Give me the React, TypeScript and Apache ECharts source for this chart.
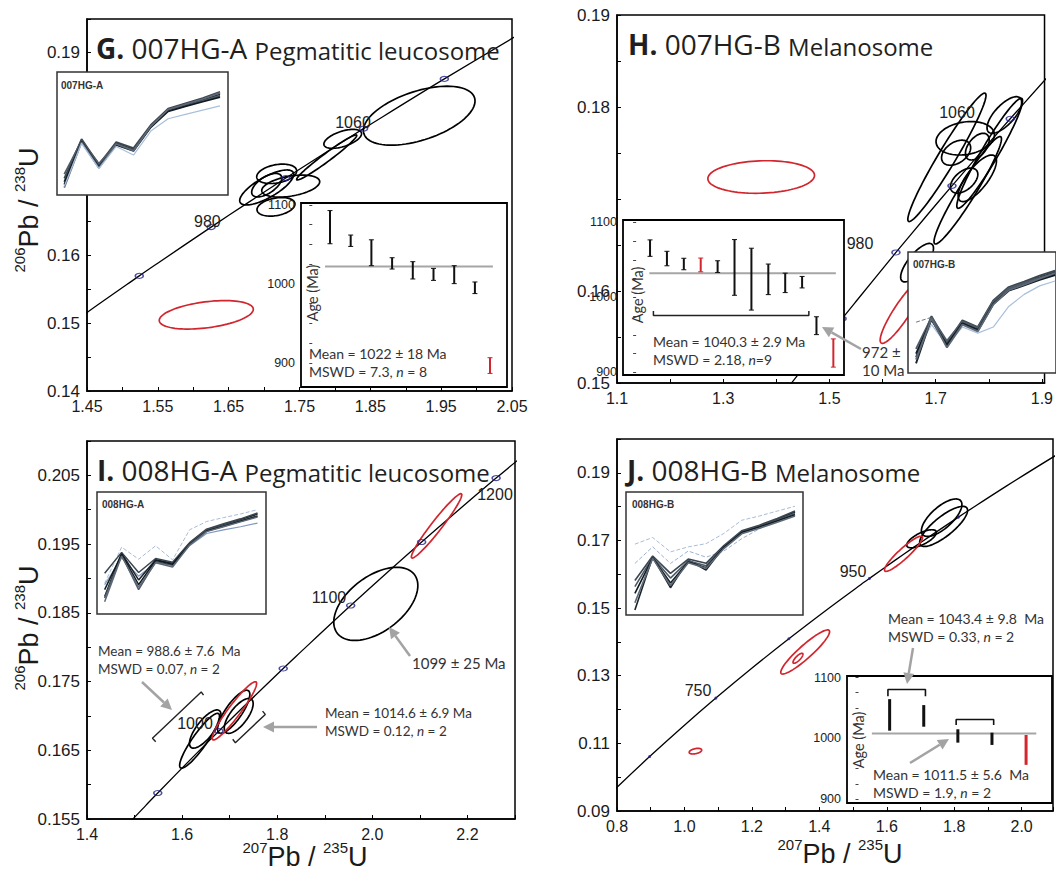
import React, { useEffect, useRef } from 'react';
import * as echarts from 'echarts';

// ---------- Concordia nodes: [age Ma, 207Pb/235U, 206Pb/238U] ----------
const CONCORDIA: [number, number, number][] = [
  [550, 0.7189, 0.08906], [600, 0.8056, 0.09754], [650, 0.8968, 0.10609],
  [700, 0.9925, 0.1147], [750, 1.0931, 0.12338], [800, 1.1987, 0.13213],
  [850, 1.3097, 0.14094], [900, 1.4263, 0.14983], [940, 1.5238, 0.15699],
  [950, 1.5488, 0.15878], [980, 1.6252, 0.16419], [1000, 1.6774, 0.1678],
  [1020, 1.7307, 0.17143], [1050, 1.8126, 0.1769], [1060, 1.8404, 0.17872],
  [1100, 1.9545, 0.18606], [1150, 2.1037, 0.1953], [1200, 2.2603, 0.2046],
  [1250, 2.4249, 0.21398],
];
const G_MARKER_AGES = [940, 980, 1020, 1060, 1100];
const H_MARKER_AGES = [940, 980, 1020, 1060, 1100];
const I_MARKER_AGES = [950, 1000, 1050, 1100, 1150, 1200];
const J_MARKER_AGES = [650, 750, 850, 950, 1050];

// ---------- Error ellipses: [x, y, sigmaX, sigmaY, rho] ----------
const G_BLACK = [
  [1.919, 0.18063, 0.0788, 0.00435, 0.5],
  [1.811, 0.17721, 0.0266, 0.0014, 0.55],
  [1.7884, 0.17447, 0.0424, 0.00332, 0.975],
  [1.7178, 0.17205, 0.0282, 0.00143, 0.3],
  [1.7037, 0.17038, 0.0212, 0.00173, 0.6],
  [1.7037, 0.17004, 0.0381, 0.00258, 0.75],
  [1.7376, 0.17024, 0.0409, 0.00162, 0.4],
  [1.7168, 0.16718, 0.0268, 0.00137, 0.3],
];
const G_RED = [[1.6184, 0.15124, 0.0664, 0.0021, 0.39]];

const H_BLACK = [
  [1.7212, 0.17453, 0.0736, 0.00698, 0.965],
  [1.7557, 0.1766, 0.055, 0.00182, 0.2],
  [1.7385, 0.17503, 0.0274, 0.00136, 0.4],
  [1.7784, 0.17569, 0.0223, 0.00145, 0.5],
  [1.8293, 0.17913, 0.0326, 0.00199, 0.7],
  [1.7604, 0.17095, 0.0635, 0.00584, 0.955],
  [1.8017, 0.17497, 0.0619, 0.00598, 0.955],
  [1.7536, 0.172, 0.0258, 0.00136, 0.5],
  [1.7784, 0.17225, 0.0361, 0.00253, 0.75],
  [1.665, 0.16308, 0.0309, 0.00209, 0.75],
];
const H_RED = [
  [1.6367, 0.15779, 0.0412, 0.00348, 0.9],
  [1.3715, 0.17239, 0.1004, 0.00177, 0.1],
];

const I_BLACK = [
  [2.0073, 0.1863, 0.0884, 0.00532, 0.5],
  [1.7085, 0.1706, 0.0339, 0.00314, 0.8],
  [1.719, 0.17, 0.0304, 0.00254, 0.7],
  [1.6486, 0.16809, 0.0331, 0.00278, 0.75],
  [1.6367, 0.16639, 0.0419, 0.00399, 0.9],
];
const I_RED = [
  [2.1351, 0.19765, 0.053, 0.00468, 0.965],
  [1.71, 0.17074, 0.0467, 0.00423, 0.94],
];

const J_BLACK = [
  [1.7628, 0.17673, 0.0601, 0.00554, 0.7],
  [1.7686, 0.17415, 0.071, 0.00593, 0.8],
  [1.7032, 0.1705, 0.044, 0.00267, 0.7],
];
const J_RED = [
  [1.6496, 0.16606, 0.0563, 0.00519, 0.92],
  [1.3581, 0.13702, 0.0724, 0.00652, 0.92],
  [1.3367, 0.13516, 0.0147, 0.00148, 0.8],
  [1.0326, 0.10769, 0.0185, 0.00083, 0.4],
];

// ---------- Bracket annotations in I (data space) ----------
const I_BRACKET_LEFT = [[1.5445, 0.16625], [1.5376, 0.16674], [1.6402, 0.17349], [1.645, 0.17301]];
const I_BRACKET_RIGHT = [[1.7064, 0.1666], [1.712, 0.1661], [1.7749, 0.17022], [1.7692, 0.1707]];

// ---------- Weighted-mean insets: [position, low age, high age] ----------
const G_BARS_BLACK = [
  [1, 1050.9, 1092.9], [2, 1047.5, 1061.9], [3, 1023.1, 1055.9], [4, 1018.9, 1033.2],
  [5, 1006.3, 1028.2], [6, 1004.5, 1019.7], [7, 1000.4, 1023.1], [8, 987.8, 1002.5],
];
const G_BARS_RED = [[8.73, 886.7, 906.6]];
const G_MEAN = 1022;
const G_MEAN_SPAN = [0.76, 8.87];

const H_BARS_BLACK = [
  [1, 1054.6, 1076.5], [2, 1042, 1061.3], [3, 1036.7, 1052], [5, 1033.1, 1048.7],
  [6, 1002.7, 1076.9], [7, 983, 1065.4], [8, 1003.6, 1044.3], [9, 1006.3, 1032.2],
  [10, 1012.5, 1027.8], [10.85, 950.3, 974.1],
];
const H_BARS_RED = [[4, 1034, 1052.3], [11.85, 907, 944.6]];
const H_MEAN = 1032;
const H_MEAN_SPAN = [0.96, 12.0];
const H_BRACKET = [[1.2, 981.6], [1.2, 975.8], [10.4, 975.8], [10.4, 981.6]];

const J_BARS_BLACK = [[1, 1012.5, 1064.4], [2, 1019, 1054.6], [3, 992.8, 1014.8], [4, 989, 1009.2]];
const J_BARS_RED = [[5, 956.2, 1005.4]];
const J_MEAN = 1008;
const J_MEAN_SPAN = [0.48, 5.3];
const J_BRACKET_A = [[0.95, 1069], [0.95, 1080.3], [2.05, 1080.3], [2.05, 1069]];
const J_BRACKET_B = [[2.95, 1021.8], [2.95, 1031], [4.05, 1031], [4.05, 1021.8]];

const WM_LABELS = [900, 1000, 1100];
const WM_TICKS = [900, 925, 950, 975, 1000, 1025, 1050, 1075, 1100];

// ---------- Spider-diagram insets (relative values, 10 elements) ----------
const G_SPIDER_DARK = [
  [10.8, 44.7, 23.8, 42.0, 37.2, 56.1, 69.1, 73.2, 77.2, 81.9],
  [13.5, 45.5, 24.8, 43.0, 38.2, 57.0, 70.2, 74.5, 78.8, 84.0],
  [17.0, 44.0, 25.5, 41.2, 36.5, 55.5, 68.8, 72.6, 76.5, 80.8],
  [8.5, 43.5, 22.6, 40.6, 35.8, 55.0, 68.0, 72.0, 75.8, 79.6],
  [6.0, 43.0, 22.0, 41.5, 36.0, 55.8, 69.5, 73.8, 78.0, 83.0],
];
const G_SPIDER_LIGHT = [7.0, 42.0, 21.5, 39.5, 32.5, 52.0, 62.0, 65.5, 69.0, 72.5];

const H_SPIDER_DARK = [
  [8.0, 45.5, 22.0, 42.0, 36.0, 58.0, 69.5, 74.0, 79.0, 83.0],
  [13.0, 47.0, 24.5, 43.5, 38.0, 60.0, 71.0, 75.5, 80.5, 84.5],
  [20.0, 46.0, 26.5, 42.5, 37.5, 59.0, 70.0, 74.5, 78.5, 82.0],
  [16.0, 44.0, 23.0, 41.0, 35.0, 57.0, 68.0, 72.5, 77.0, 81.0],
  [11.0, 45.0, 21.0, 40.0, 34.5, 56.5, 68.5, 73.0, 78.0, 82.5],
];
const H_SPIDER_LIGHT = [15.0, 40.0, 23.0, 38.0, 33.0, 38.0, 55.0, 65.0, 72.0, 76.0];
const H_SPIDER_DASH = [42.0, 46.0, 25.0, 42.0, 36.5, 58.5, 70.5, 75.0, 80.0, 83.5];

const I_SPIDER_DARK = [
  [14.3, 49.9, 27.9, 44.4, 41.6, 58.1, 69.0, 73.1, 77.2, 81.9],
  [33.4, 50.5, 34.0, 45.5, 42.5, 58.5, 69.5, 74.0, 78.0, 82.8],
  [13.0, 48.5, 20.0, 43.0, 40.0, 57.5, 68.5, 72.5, 76.5, 80.5],
  [20.0, 49.0, 24.0, 44.0, 40.8, 57.0, 68.0, 72.0, 76.0, 80.0],
  [10.0, 47.5, 22.0, 42.0, 38.5, 56.5, 67.5, 71.5, 75.5, 79.5],
];
const I_SPIDER_LIGHT = [24.0, 46.0, 31.0, 42.0, 40.0, 56.0, 66.0, 69.0, 71.5, 74.5];
const I_SPIDER_DASH = [25.2, 54.8, 44.9, 55.9, 44.4, 69.0, 75.8, 79.0, 82.0, 85.5];

const J_SPIDER_DARK = [
  [4.0, 47.3, 22.2, 44.6, 36.5, 55.4, 67.6, 72.2, 77.6, 83.8],
  [28.0, 48.0, 33.8, 45.5, 42.0, 56.5, 68.5, 73.0, 78.5, 84.5],
  [23.0, 47.0, 30.0, 44.0, 40.0, 55.5, 67.5, 72.0, 77.0, 82.5],
  [17.6, 46.5, 26.0, 43.0, 38.5, 55.0, 67.0, 71.5, 76.5, 81.5],
  [10.0, 46.0, 24.0, 42.5, 38.0, 54.0, 66.0, 70.5, 75.5, 80.5],
];
const J_SPIDER_DASH1 = [57.6, 63.0, 51.3, 55.4, 58.0, 66.3, 77.0, 80.5, 84.5, 88.4];
const J_SPIDER_DASH2 = [41.9, 55.4, 41.9, 52.0, 47.0, 52.0, 62.0, 70.0, 77.0, 84.0];

// ---------- Tick labels ----------
const G_X_LABELS = ['1.45', '1.55', '1.65', '1.75', '1.85', '1.95', '2.05'];
const G_Y_LABELS = ['0.14', '0.15', '0.16', '0.19'];
const H_X_LABELS = ['1.1', '1.3', '1.5', '1.7', '1.9'];
const H_Y_LABELS = ['0.15', '0.16', '0.18', '0.19'];
const I_X_LABELS = ['1.4', '1.6', '1.8', '2.0', '2.2'];
const I_Y_LABELS = ['0.155', '0.165', '0.175', '0.185', '0.195', '0.205'];
const J_X_LABELS = ['0.8', '1.0', '1.2', '1.4', '1.6', '1.8', '2.0'];
const J_Y_LABELS = ['0.09', '0.11', '0.13', '0.15', '0.17', '0.19'];

const NUM_FONT = 'Liberation Sans';
const TXT_FONT = 'Lato';
const TITLE_FONT = 'Open Sans';
const RED = '#d1262e';
const ARROW = '#a3a3a3';

const pick = (labels: string[]) => (v: number) => {
  const f = labels.find((l) => Math.abs(parseFloat(l) - v) < 1e-7);
  return f ?? '';
};

function mainAxis(g: number, min: number, max: number, interval: number, labels: string[], size: number) {
  return {
    type: 'value', gridIndex: g, min, max, interval,
    axisLine: { show: true, onZero: false, lineStyle: { color: '#000', width: 1.5 } },
    axisTick: { show: true, inside: true, length: 4, lineStyle: { color: '#000', width: 1 } },
    axisLabel: {
      formatter: pick(labels), fontSize: size, fontFamily: NUM_FONT, color: '#1a1a1a', margin: 7,
      showMinLabel: true, showMaxLabel: true, hideOverlap: false,
    },
    splitLine: { show: false },
  };
}
function hiddenAxis(g: number, min: number, max: number) {
  return { type: 'value', gridIndex: g, min, max, show: false, splitLine: { show: false }, z: 12 };
}
function wmY(g: number, min: number, max: number) {
  return {
    type: 'value', gridIndex: g, min, max, z: 12,
    axisLine: { show: false }, splitLine: { show: false },
    axisTick: { show: true, inside: true, length: 3, customValues: WM_TICKS, lineStyle: { color: '#444', width: 1 } },
    axisLabel: {
      customValues: WM_LABELS, fontSize: 12.5, fontFamily: NUM_FONT, color: '#222', margin: 6,
      formatter: (v: number) => String(v),
    },
  };
}

function ellipseSeries(g: number, data: number[][], color: string, lw: number) {
  return {
    type: 'custom', xAxisIndex: g, yAxisIndex: g, data, clip: true, z: 3,
    renderItem: (_p: any, api: any) => {
      const cx = api.value(0), cy = api.value(1), sx = api.value(2), sy = api.value(3), r = api.value(4);
      const q = Math.sqrt(1 - r * r);
      const pts: number[][] = [];
      for (let k = 0; k < 90; k++) {
        const t = (k / 90) * Math.PI * 2;
        pts.push(api.coord([cx + sx * Math.cos(t), cy + sy * (r * Math.cos(t) + q * Math.sin(t))]));
      }
      return { type: 'polygon', shape: { points: pts }, style: { fill: 'none', stroke: color, lineWidth: lw } };
    },
  };
}
function concordiaSeries(g: number) {
  return {
    type: 'line', xAxisIndex: g, yAxisIndex: g, data: CONCORDIA.map((c) => [c[1], c[2]]),
    smooth: 0.3, symbol: 'none', clip: true, z: 2, silent: true,
    lineStyle: { color: '#000', width: 1.3 },
  };
}
function markerSeries(g: number, ages: number[], dot: boolean) {
  return {
    type: 'scatter', xAxisIndex: g, yAxisIndex: g, z: 4, silent: true,
    data: CONCORDIA.filter((c) => ages.includes(c[0])).map((c) => [c[1], c[2]]),
    symbol: 'circle', symbolSize: dot ? 3 : [8, 5],
    itemStyle: dot
      ? { color: '#22228a' }
      : { color: 'rgba(255,255,255,0)', borderColor: '#22228a', borderWidth: 1.3 },
  };
}
function barSeries(g: number, data: number[][], color: string, lw: number, cap: number) {
  return {
    type: 'custom', xAxisIndex: g, yAxisIndex: g, data, z: 13, clip: false,
    renderItem: (_p: any, api: any) => {
      const x = api.value(0), lo = api.value(1), hi = api.value(2);
      const a = api.coord([x, lo]), b = api.coord([x, hi]);
      const ch: any[] = [{ type: 'line', shape: { x1: a[0], y1: a[1], x2: b[0], y2: b[1] }, style: { stroke: color, lineWidth: lw } }];
      if (cap > 0) {
        ch.push({ type: 'line', shape: { x1: a[0] - cap, y1: a[1], x2: a[0] + cap, y2: a[1] }, style: { stroke: color, lineWidth: 1 } });
        ch.push({ type: 'line', shape: { x1: b[0] - cap, y1: b[1], x2: b[0] + cap, y2: b[1] }, style: { stroke: color, lineWidth: 1 } });
      }
      return { type: 'group', children: ch };
    },
  };
}
function polySeries(g: number, data: number[][], color: string, lw: number, z: number) {
  return {
    type: 'line', xAxisIndex: g, yAxisIndex: g, data, symbol: 'none', z, silent: true, clip: false,
    lineStyle: { color, width: lw },
  };
}
function spiderSeries(g: number, vals: number[], color: string, lw: number, dashed = false) {
  return {
    type: 'line', xAxisIndex: g, yAxisIndex: g, data: vals.map((v, i) => [i, v]), symbol: 'none',
    z: 13, silent: true, clip: true,
    lineStyle: { color, width: lw, type: dashed ? 'dashed' : 'solid' },
  };
}

// ---------- graphic helpers ----------
function txt(x: number, y: number, text: string, size: number, o: any = {}) {
  return {
    type: 'text', x, y, z: o.z ?? 6, rotation: o.rotation ?? 0,
    style: {
      text, fill: o.color ?? '#222', fontSize: size, fontFamily: o.family ?? NUM_FONT,
      fontWeight: o.weight ?? 'normal', align: o.align ?? 'left', verticalAlign: o.va ?? 'middle',
      rich: o.rich,
    },
  };
}
function statText(x: number, y: number, mean: string, mswd: string, n: string, size: number) {
  const rich = {
    t: { fontSize: size, fontFamily: TXT_FONT, fill: '#333' },
    i: { fontSize: size, fontFamily: TXT_FONT, fill: '#333', fontStyle: 'italic' },
  };
  return [
    txt(x, y, `{t|${mean}}`, size, { rich, z: 20 }),
    txt(x, y + 18, `{t|MSWD = ${mswd}, }{i|n}{t|${n}}`, size, { rich, z: 20 }),
  ];
}
function title(x: number, y: number, letter: string, name: string, desc: string) {
  const rich = {
    l: { fontSize: 28, fontWeight: 'bold', fontFamily: TITLE_FONT, fill: '#231f20', verticalAlign: 'bottom', lineHeight: 34 },
    n: { fontSize: 28, fontFamily: TITLE_FONT, fill: '#231f20', verticalAlign: 'bottom', lineHeight: 34 },
    d: { fontSize: 24, fontFamily: TITLE_FONT, fill: '#231f20', verticalAlign: 'bottom', lineHeight: 31 },
  };
  return txt(x, y, `{l|${letter} }{n|${name} }{d|${desc}}`, 26, { rich, z: 6 });
}
function isoTitle(x: number, y: number, a: string, b: string, rotation = 0) {
  const rich = {
    s: { fontSize: 15, fontFamily: NUM_FONT, fill: '#1a1a1a', verticalAlign: 'top', lineHeight: 16 },
    b: { fontSize: 27, fontFamily: NUM_FONT, fill: '#1a1a1a', verticalAlign: 'bottom', lineHeight: 30 },
  };
  return txt(x, y, `{s|${a}}{b|Pb / }{s|${b}}{b|U}`, 27, { rich, rotation, align: 'center', z: 6 });
}
function arrow(x1: number, y1: number, x2: number, y2: number) {
  const dx = x2 - x1, dy = y2 - y1, L = Math.hypot(dx, dy), ux = dx / L, uy = dy / L;
  const hl = 11, hw = 5.5;
  const bx = x2 - ux * hl, by = y2 - uy * hl;
  return [
    { type: 'line', z: 20, shape: { x1, y1, x2: bx, y2: by }, style: { stroke: ARROW, lineWidth: 2.5 } },
    { type: 'polygon', z: 20, shape: { points: [[x2, y2], [bx - uy * hw, by + ux * hw], [bx + uy * hw, by - ux * hw]] }, style: { fill: ARROW } },
  ];
}
function spiderLabel(x: number, y: number, t: string) {
  return txt(x, y, t, 10, { weight: 'bold', color: '#333', z: 20 });
}
function plain(x: number, y: number, t: string, size: number) {
  return txt(x, y, `{t|${t}}`, size, { rich: { t: { fontSize: size, fontFamily: TXT_FONT, fill: '#333' } }, z: 20 });
}

function buildOption() {
  const grid = [
    { left: 87, top: 19, width: 425, height: 372 }, // 0 G main
    { left: 57, top: 72, width: 171, height: 123, z: 10, inset: 'spider' }, // 1 G spider
    { left: 301, top: 203, width: 206, height: 184, z: 10, inset: 'wm' }, // 2 G wm
    { left: 617, top: 15, width: 438, height: 368 }, // 3 H main
    { left: 623, top: 220, width: 221, height: 155, z: 10, inset: 'wm' }, // 4 H wm
    { left: 908, top: 252, width: 160, height: 121, z: 10, inset: 'spider' }, // 5 H spider
    { left: 87, top: 441, width: 428, height: 378 }, // 6 I main
    { left: 97, top: 492, width: 169, height: 122, z: 10, inset: 'spider' }, // 7 I spider
    { left: 617, top: 439, width: 441, height: 372 }, // 8 J main
    { left: 626, top: 492, width: 177, height: 123, z: 10, inset: 'spider' }, // 9 J spider
    { left: 847, top: 676, width: 205, height: 127, z: 10, inset: 'wm' }, // 10 J wm
  ].map((g: any) => ({
    left: g.left, top: g.top, width: g.width, height: g.height, show: true, containLabel: false,
    z: g.z ?? 0,
    backgroundColor: g.inset ? '#fff' : 'rgba(0,0,0,0)',
    borderColor: g.inset === 'spider' ? '#333' : '#000',
    borderWidth: g.inset === 'wm' ? 1.8 : 1.5,
  }));

  const xAxis = [
    mainAxis(0, 1.45, 2.05, 0.05, G_X_LABELS, 16),
    hiddenAxis(1, -0.42, 9.46),
    hiddenAxis(2, -0.4, 9.55),
    mainAxis(3, 1.1, 1.905, 0.1, H_X_LABELS, 16),
    hiddenAxis(4, -0.6, 12.48),
    hiddenAxis(5, -0.52, 9.06),
    mainAxis(6, 1.4, 2.3, 0.1, I_X_LABELS, 16),
    hiddenAxis(7, -0.45, 9.5),
    mainAxis(8, 0.8, 2.093, 0.1, J_X_LABELS, 16),
    hiddenAxis(9, -0.5, 9.45),
    hiddenAxis(10, -0.25, 5.76),
  ];
  const yAxis = [
    mainAxis(0, 0.14, 0.1949, 0.005, G_Y_LABELS, 17),
    hiddenAxis(1, 0, 100),
    wmY(2, 869.5, 1102.5),
    mainAxis(3, 0.15, 0.19, 0.005, H_Y_LABELS, 17),
    wmY(4, 896.5, 1103),
    hiddenAxis(5, 0, 100),
    mainAxis(6, 0.155, 0.21, 0.005, I_Y_LABELS, 17),
    hiddenAxis(7, 0, 100),
    mainAxis(8, 0.09, 0.2, 0.01, J_Y_LABELS, 17),
    hiddenAxis(9, 0, 100),
    wmY(10, 893.4, 1102.5),
  ];

  const series: any[] = [];
  const mains = [
    { g: 0, black: G_BLACK, red: G_RED, ages: G_MARKER_AGES, dot: false },
    { g: 3, black: H_BLACK, red: H_RED, ages: H_MARKER_AGES, dot: false },
    { g: 6, black: I_BLACK, red: I_RED, ages: I_MARKER_AGES, dot: false },
    { g: 8, black: J_BLACK, red: J_RED, ages: J_MARKER_AGES, dot: true },
  ];
  mains.forEach((m) => {
    series.push(concordiaSeries(m.g));
    series.push(ellipseSeries(m.g, m.black, '#000', 1.7));
    series.push(ellipseSeries(m.g, m.red, RED, 1.7));
    series.push(markerSeries(m.g, m.ages, m.dot));
  });
  series.push(polySeries(6, I_BRACKET_LEFT, '#222', 1.4, 4));
  series.push(polySeries(6, I_BRACKET_RIGHT, '#222', 1.4, 4));

  // weighted mean insets
  series.push(polySeries(2, [[G_MEAN_SPAN[0], G_MEAN], [G_MEAN_SPAN[1], G_MEAN]], '#a6a6a6', 2, 12));
  series.push(barSeries(2, G_BARS_BLACK, '#111', 2, 2.5));
  series.push(barSeries(2, G_BARS_RED, RED, 2, 2.5));

  series.push(polySeries(4, [[H_MEAN_SPAN[0], H_MEAN], [H_MEAN_SPAN[1], H_MEAN]], '#a6a6a6', 2, 12));
  series.push(polySeries(4, H_BRACKET, '#222', 1.5, 13));
  series.push(barSeries(4, H_BARS_BLACK, '#111', 2, 2.5));
  series.push(barSeries(4, H_BARS_RED, RED, 2, 2.5));

  series.push(polySeries(10, [[J_MEAN_SPAN[0], J_MEAN], [J_MEAN_SPAN[1], J_MEAN]], '#a6a6a6', 2, 12));
  series.push(polySeries(10, J_BRACKET_A, '#111', 1.6, 13));
  series.push(polySeries(10, J_BRACKET_B, '#111', 1.6, 13));
  series.push(barSeries(10, J_BARS_BLACK, '#111', 3, 0));
  series.push(barSeries(10, J_BARS_RED, RED, 3, 0));

  // spider insets
  const darkCols = ['#1c252c', '#3a4650', '#4e5a66', '#111a20', '#5d6874'];
  G_SPIDER_DARK.forEach((v, i) => series.push(spiderSeries(1, v, darkCols[i], 1.7)));
  series.push(spiderSeries(1, G_SPIDER_LIGHT, '#a9c0dc', 1.2));
  series.push(spiderSeries(5, H_SPIDER_DASH, '#6c7680', 1, true));
  series.push(spiderSeries(5, H_SPIDER_LIGHT, '#a9c0dc', 1.2));
  H_SPIDER_DARK.forEach((v, i) => series.push(spiderSeries(5, v, darkCols[i], 1.9)));
  series.push(spiderSeries(7, I_SPIDER_DASH, '#a9bcd6', 1, true));
  series.push(spiderSeries(7, I_SPIDER_LIGHT, '#7f98bd', 1.2));
  I_SPIDER_DARK.forEach((v, i) => series.push(spiderSeries(7, v, darkCols[i], 1.5)));
  series.push(spiderSeries(9, J_SPIDER_DASH1, '#a9bcd6', 1, true));
  series.push(spiderSeries(9, J_SPIDER_DASH2, '#9db2cf', 1, true));
  J_SPIDER_DARK.forEach((v, i) => series.push(spiderSeries(9, v, darkCols[i], 1.6)));

  const ageRich = { a: { fontSize: 14.5, fontFamily: TXT_FONT, fill: '#333' } };
  const elements: any[] = [
    // titles
    title(96, 45, 'G.', '007HG-A', 'Pegmatitic leucosome'),
    title(628, 41, 'H.', '007HG-B', 'Melanosome'),
    title(97, 467, 'I.', '008HG-A', 'Pegmatitic leucosome'),
    title(627, 467, 'J.', '008HG-B', 'Melanosome'),
    // axis titles
    isoTitle(27, 210, '206', '238', Math.PI / 2),
    isoTitle(27, 628, '206', '238', Math.PI / 2),
    isoTitle(305, 855, '207', '235'),
    isoTitle(840, 852, '207', '235'),
    // concordia age labels
    txt(194, 221, '980', 16),
    txt(353, 122, '1060', 16, { align: 'center' }),
    txt(860, 243, '980', 16, { align: 'center' }),
    txt(957, 112, '1060', 16, { align: 'center' }),
    txt(329, 597, '1100', 16, { align: 'center' }),
    txt(495, 494, '1200', 16, { align: 'center' }),
    txt(195, 723, '1000', 16, { align: 'center' }),
    txt(853, 571, '950', 16, { align: 'center' }),
    txt(698, 690, '750', 16, { align: 'center' }),
    // Age (Ma) labels
    txt(312, 293, '{a|Age (Ma)}', 14.5, { rich: ageRich, rotation: Math.PI / 2, align: 'center', z: 20 }),
    txt(637, 295, '{a|Age (Ma)}', 14.5, { rich: ageRich, rotation: Math.PI / 2, align: 'center', z: 20 }),
    txt(858, 740, '{a|Age (Ma)}', 14.5, { rich: ageRich, rotation: Math.PI / 2, align: 'center', z: 20 }),
    // spider titles
    spiderLabel(61, 85, '007HG-A'),
    spiderLabel(913, 264, '007HG-B'),
    spiderLabel(102, 504, '008HG-A'),
    spiderLabel(632, 504, '008HG-B'),
    // stats
    ...statText(309, 353, 'Mean = 1022 ± 18 Ma', '7.3', ' = 8', 14),
    ...statText(653, 341, 'Mean = 1040.3 ± 2.9 Ma', '2.18', '=9', 14),
    ...statText(98, 651, 'Mean = 988.6 ± 7.6  Ma', '0.07', ' = 2', 13.5),
    ...statText(325, 713, 'Mean = 1014.6 ± 6.9 Ma', '0.12', ' = 2', 13.5),
    ...statText(888, 618, 'Mean = 1043.4 ± 9.8  Ma', '0.33', ' = 2', 14),
    ...statText(873, 774, 'Mean = 1011.5 ± 5.6  Ma', '1.9', ' = 2', 14),
    plain(862, 352, '972 ±', 15),
    plain(862, 370, '10 Ma', 15),
    plain(412, 663, '1099 ± 25 Ma', 15),
    // arrows
    ...arrow(861, 349, 822, 327),
    ...arrow(142, 682, 172, 710),
    ...arrow(317, 727, 263, 727),
    ...arrow(410, 656, 389, 627),
    ...arrow(913, 648, 907, 684),
    ...arrow(910, 763, 949, 739),
  ];

  return {
    animation: false,
    backgroundColor: '#fff',
    grid, xAxis, yAxis, series,
    graphic: { elements },
  };
}

export default function App() {
  const ref = useRef<HTMLDivElement>(null);
  useEffect(() => {
    if (!ref.current) return;
    const chart = echarts.init(ref.current, null, { renderer: 'svg' });
    chart.setOption(buildOption() as any);
    return () => chart.dispose();
  }, []);
  return (
    <div
      ref={ref}
      style={{ position: 'fixed', left: 0, top: 0, width: 1056, height: 870, background: '#fff' }}
    />
  );
}
